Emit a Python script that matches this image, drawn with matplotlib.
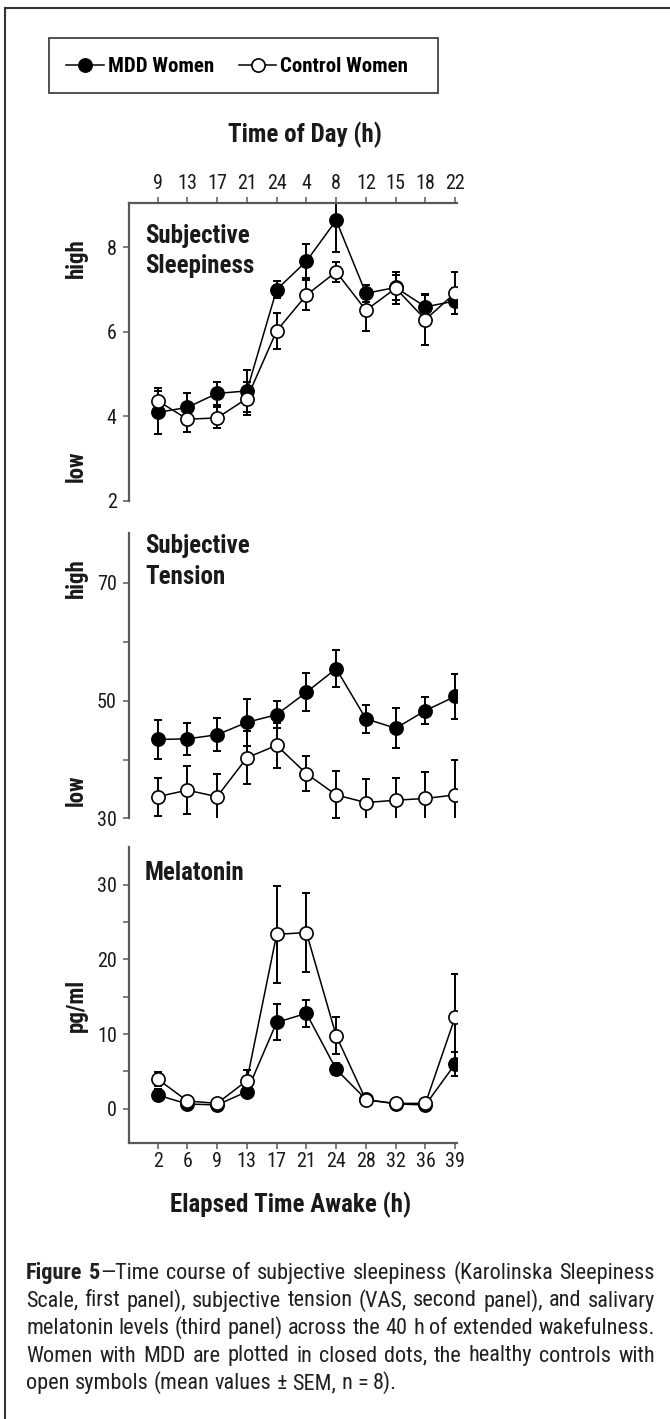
import matplotlib
matplotlib.use('Agg')
import matplotlib.pyplot as plt
from matplotlib import font_manager
from matplotlib.lines import Line2D
from matplotlib.patches import Rectangle
import numpy as np

# Data (mean +/- SEM)
time_of_day = ['9', '13', '17', '21', '24', '4', '8', '12', '15', '18', '22']
elapsed = ['2', '6', '9', '13', '17', '21', '24', '28', '32', '36', '39']

sleep_mdd = [4.09, 4.21, 4.54, 4.60, 7.00, 7.67, 8.64, 6.91, 7.05, 6.59, 6.73]
sleep_mdd_sem = [0.50, 0.33, 0.28, 0.50, 0.20, 0.40, 0.75, 0.20, 0.30, 0.28, 0.30]
sleep_ctl = [4.37, 3.93, 3.96, 4.42, 6.02, 6.87, 7.42, 6.51, 7.03, 6.29, 6.92]
sleep_ctl_sem = [0.30, 0.30, 0.25, 0.40, 0.42, 0.35, 0.24, 0.50, 0.38, 0.60, 0.50]

tension_mdd = [43.4, 43.5, 44.2, 46.3, 47.6, 51.4, 55.4, 46.9, 45.3, 48.3, 50.7]
tension_mdd_sem = [3.3, 2.7, 2.8, 4.0, 2.3, 3.2, 3.1, 2.4, 3.4, 2.3, 3.8]
tension_ctl = [33.7, 34.8, 33.7, 40.3, 42.4, 37.6, 34.0, 32.7, 33.1, 33.4, 34.0]
tension_ctl_sem = [3.2, 4.1, 3.9, 4.5, 3.8, 3.0, 4.0, 4.0, 3.7, 4.5, 5.9]

mel_mdd = [1.83, 0.63, 0.50, 2.28, 11.56, 12.77, 5.27, 1.25, 0.63, 0.50, 6.00]
mel_mdd_sem = [0.8, 0.2, 0.2, 0.5, 2.4, 1.8, 0.8, 0.3, 0.2, 0.2, 1.6]
mel_ctl = [3.97, 1.03, 0.71, 3.75, 23.35, 23.60, 9.78, 1.16, 0.71, 0.71, 12.30]
mel_ctl_sem = [0.9, 0.2, 0.2, 1.4, 6.5, 5.25, 2.45, 0.3, 0.2, 0.2, 5.7]

caption_lines = [
    [[('Figure', 'bold')], [('5', 'bold'), ('\u2014Time', 'normal')], 'course', 'of',
     'subjective', 'sleepiness', '(Karolinska', 'Sleepiness'],
    'Scale, first panel), subjective tension (VAS, second panel), and salivary'.split(),
    'melatonin levels (third panel) across the 40 h of extended wakefulness.'.split(),
    'Women with MDD are plotted in closed dots, the healthy controls with'.split(),
    'open symbols (mean values \u00b1 SEM, n = 8).'.split(),
]


# a narrow Helvetica-like face, falling back to DejaVu Sans Condensed
def pick_font():
    entries = font_manager.fontManager.ttflist
    prefs = ['Nimbus Sans Narrow', 'Liberation Sans Narrow', 'Arial Narrow', 'Roboto Condensed',
             'PT Sans Narrow', 'Open Sans Condensed', 'Archivo Narrow', 'Asap Condensed']
    for name in prefs:
        fs = [f for f in entries if f.name == name and '[' not in f.fname and f.style == 'normal']
        ws = {str(f.weight) for f in fs}
        if ws & {'400', 'normal', 'regular', 'book'} and ws & {'700', 'bold'}:
            return name
    return 'DejaVu Sans'


FONT = pick_font()
plt.rcParams['font.family'] = [FONT, 'DejaVu Sans']
plt.rcParams['font.stretch'] = 'condensed'

W, H = 670, 1419
fig = plt.figure(figsize=(W / 100, H / 100), dpi=100)
fig.patch.set_facecolor('white')


def fx(px):
    return px / W


def fy(py):
    return 1 - py / H


def panel(top, bottom):
    return fig.add_axes([fx(129.3), fy(bottom), fx(456.7) - fx(129.3), (bottom - top) / H])


SPINE = '#5a5a5a'
x = np.arange(len(time_of_day))

ax1 = panel(203, 500.7)
ax2 = panel(533, 818.5)
ax3 = panel(846.7, 1142.7)

series = [
    (ax1, sleep_mdd, sleep_mdd_sem, sleep_ctl, sleep_ctl_sem),
    (ax2, tension_mdd, tension_mdd_sem, tension_ctl, tension_ctl_sem),
    (ax3, mel_mdd, mel_mdd_sem, mel_ctl, mel_ctl_sem),
]

handles = []
for ax, m, msem, c, csem in series:
    ax.errorbar(x, m, yerr=msem, fmt='none', ecolor='black', elinewidth=1.4,
                capsize=3, capthick=1.4, zorder=2)
    lm, = ax.plot(x, m, '-o', color='black', lw=1.1, ms=9.5, mfc='black',
                  mec='black', mew=1.2, zorder=3, label='MDD Women')
    ax.errorbar(x, c, yerr=csem, fmt='none', ecolor='black', elinewidth=1.4,
                capsize=3, capthick=1.4, zorder=4)
    lc, = ax.plot(x, c, '-o', color='black', lw=1.1, ms=9.5, mfc='white',
                  mec='black', mew=1.2, zorder=5, label='Control Women')
    if not handles:
        handles = [lm, lc]
    ax.set_xlim(-0.95, 10.05)
    for s in ax.spines.values():
        s.set_visible(False)
    ax.spines['left'].set_visible(True)
    ax.spines['left'].set_color(SPINE)
    ax.spines['left'].set_linewidth(1.6)
    ax.tick_params(axis='both', colors=SPINE, labelcolor='#1a1a1a', labelsize=14.5,
                   length=4, width=1.1, direction='out')
    ax.tick_params(axis='y', pad=5)
    ax.patch.set_alpha(0)

# panel 1: sleepiness, time of day on top
ax1.set_ylim(2, 9.05)
ax1.set_yticks([2, 4, 6, 8])
ax1.xaxis.tick_top()
ax1.spines['top'].set_visible(True)
ax1.spines['top'].set_color(SPINE)
ax1.spines['top'].set_linewidth(1.6)
ax1.set_xticks(x)
ax1.set_xticklabels(time_of_day)
ax1.tick_params(axis='x', pad=3)

# panel 2: tension
ax2.set_ylim(30, 78.4)
ax2.set_yticks([30, 40, 50, 60, 70])
ax2.set_yticklabels(['30', '', '50', '', '70'])
ax2.set_xticks([])

# panel 3: melatonin, elapsed time at bottom
ax3.set_ylim(-4.56, 35.1)
ax3.set_yticks([0, 5, 10, 15, 20, 25, 30])
ax3.set_yticklabels(['0', '', '10', '', '20', '', '30'])
ax3.spines['bottom'].set_visible(True)
ax3.spines['bottom'].set_color(SPINE)
ax3.spines['bottom'].set_linewidth(1.6)
ax3.set_xticks(x)
ax3.set_xticklabels(elapsed)
ax3.tick_params(axis='x', pad=3)

TXT = '#1a1a1a'
# panel titles
fig.text(fx(145), fy(243), 'Subjective', fontsize=18, weight='bold', color=TXT, va='baseline')
fig.text(fx(145), fy(273), 'Sleepiness', fontsize=18, weight='bold', color=TXT, va='baseline')
fig.text(fx(145), fy(553), 'Subjective', fontsize=18, weight='bold', color=TXT, va='baseline')
fig.text(fx(145), fy(584), 'Tension', fontsize=18, weight='bold', color=TXT, va='baseline')
fig.text(fx(145), fy(880), 'Melatonin', fontsize=18, weight='bold', color=TXT, va='baseline')

# side labels
for label, yy in [('high', 258), ('low', 466), ('high', 578), ('low', 790), ('pg/ml', 1005)]:
    fig.text(fx(76), fy(yy), label, fontsize=16.5, weight='bold', color=TXT,
             rotation=90, ha='center', va='center')

# axis titles
fig.text(fx(305), fy(142.7), 'Time of Day (h)', fontsize=18, weight='bold', color=TXT,
         ha='center', va='baseline')
fig.text(fx(291), fy(1212), 'Elapsed Time Awake (h)', fontsize=18, weight='bold', color=TXT,
         ha='center', va='baseline')

# legend box
fig.add_artist(Rectangle((fx(49.3), fy(93.3)), fx(438.3) - fx(49.3), (93.3 - 38.3) / H,
                         transform=fig.transFigure, fill=False, edgecolor='#333333', lw=1.2))
fig.legend(handles, ['MDD Women', 'Control Women'], loc='center left',
           bbox_to_anchor=(fx(66), fy(66.7)), frameon=False, ncol=2,
           borderpad=0, borderaxespad=0, handlelength=1.8, handletextpad=0.2,
           columnspacing=1.2,
           prop={'family': [FONT, 'DejaVu Sans'], 'weight': 'bold', 'size': 15,
                 'stretch': 'condensed'})

# outer frame (top and left edges)
fig.add_artist(Line2D([fx(5), 1], [fy(7.5), fy(7.5)], transform=fig.transFigure,
                      color='#333333', lw=1.5))
fig.add_artist(Line2D([fx(5), fx(5)], [fy(7.5), 0], transform=fig.transFigure,
                      color='#333333', lw=1.5))

# justified caption
CAP_COL = '#231f20'
CAP_SIZE = 16
fig.canvas.draw()
renderer = fig.canvas.get_renderer()


def seg_width(s, weight):
    t = fig.text(0, 0, s, fontsize=CAP_SIZE, weight=weight)
    w = t.get_window_extent(renderer).width
    t.remove()
    return w


left, right = 26, 655
baselines = [1279, 1306.5, 1334, 1361.5, 1389]
for i, (words, base) in enumerate(zip(caption_lines, baselines)):
    words = [[(w, 'normal')] if isinstance(w, str) else w for w in words]
    widths = [sum(seg_width(s, wt) for s, wt in w) for w in words]
    if i < len(caption_lines) - 1:
        gap = (right - left - sum(widths)) / (len(words) - 1)
    else:
        gap = seg_width('a b', 'normal') - seg_width('ab', 'normal')
    xp = left
    for w, wd in zip(words, widths):
        xs = xp
        for s, wt in w:
            fig.text(fx(xs), fy(base), s, fontsize=CAP_SIZE, weight=wt, color=CAP_COL,
                     va='baseline', ha='left')
            xs += seg_width(s, wt)
        xp += wd + gap

fig.savefig('out.png', dpi=100, facecolor='white')
